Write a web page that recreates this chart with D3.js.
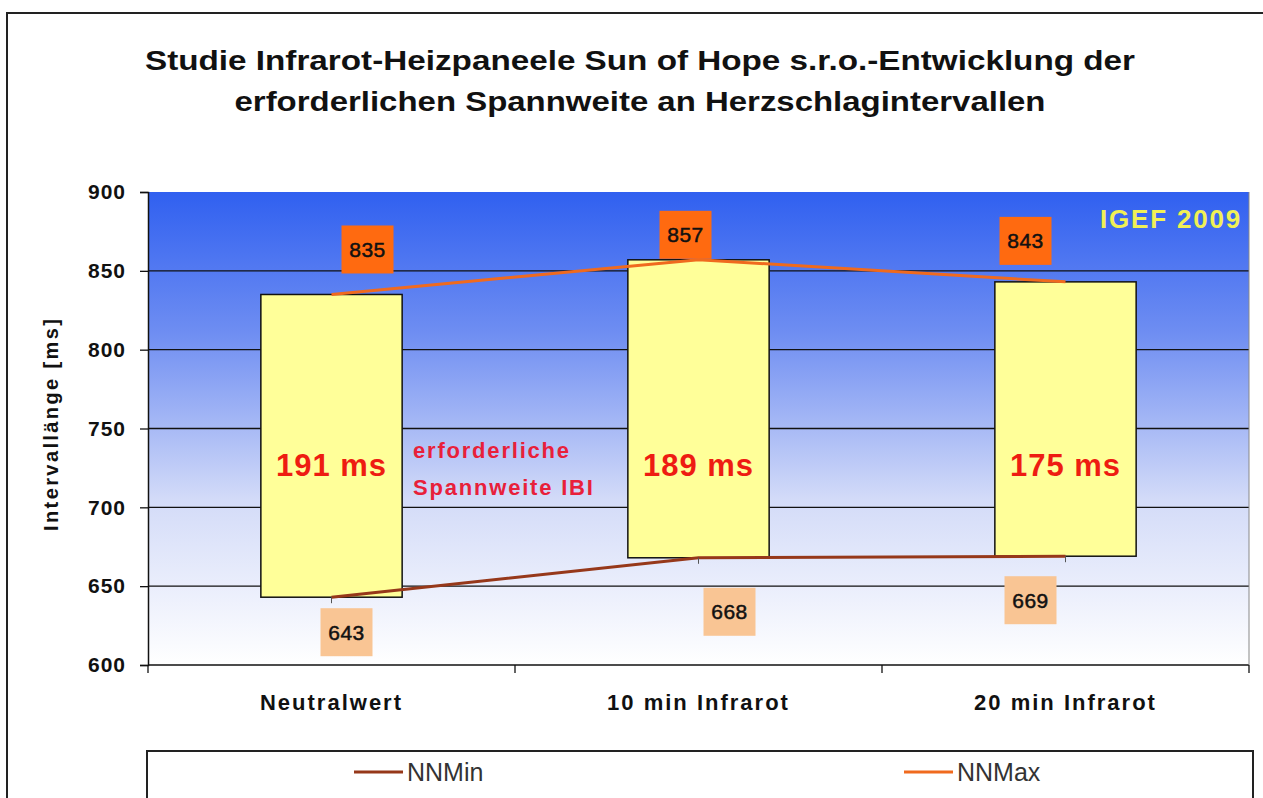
<!DOCTYPE html>
<html>
<head>
<meta charset="utf-8">
<script src="https://cdn.jsdelivr.net/npm/d3@7"></script>
<style>
  body { margin: 0; background: #fff; }
  svg text { font-family: 'Liberation Sans', Arial, sans-serif; }
</style>
</head>
<body>
<div id="chart"></div>
<script>
// Werte aus dem Diagramm
const categories = ['Neutralwert', '10 min Infrarot', '20 min Infrarot'];
const nnMin = [643, 668, 669];
const nnMax = [835, 857, 843];
const spanLabels = ['191 ms', '189 ms', '175 ms'];
const yTicks = [600, 650, 700, 750, 800, 850, 900];
const titleLines = [
  'Studie Infrarot-Heizpaneele Sun of Hope s.r.o.-Entwicklung der',
  'erforderlichen Spannweite an Herzschlagintervallen'
];

// Verschiebung der Beschriftungen (wie im Original von Hand verschoben)
const maxLabelNudge = [[36, -45], [-13, -25], [-40, -41]];
const minLabelNudge = [[15, 35], [31, 54], [-35, 44]];

const W = 1263, H = 798;
const plot = { left: 148, right: 1249, top: 192, bottom: 665 };

const svg = d3.select('#chart')
  .append('svg')
  .attr('width', W)
  .attr('height', H);

// Rahmen
svg.append('rect')
  .attr('x', 7).attr('y', 13)
  .attr('width', 1280).attr('height', 820)
  .attr('fill', '#fff')
  .attr('stroke', '#222')
  .attr('stroke-width', 2);

// Titel
svg.selectAll('.title')
  .data(titleLines)
  .join('text')
  .attr('class', 'title')
  .attr('x', 640)
  .attr('y', (d, i) => 70 + i * 41)
  .attr('text-anchor', 'middle')
  .attr('font-size', 27)
  .attr('font-weight', 'bold')
  .attr('fill', '#111')
  .attr('textLength', (d, i) => (i === 0 ? 990 : 811))
  .attr('lengthAdjust', 'spacingAndGlyphs')
  .text((d) => d);

const x = d3.scaleBand()
  .domain(categories)
  .range([plot.left, plot.right]);
const y = d3.scaleLinear()
  .domain([600, 900])
  .range([plot.bottom, plot.top]);
const cx = (i) => x(categories[i]) + x.bandwidth() / 2;
const barW = x.bandwidth() * 0.385;

// Hintergrund-Verlauf
const defs = svg.append('defs');
const grad = defs.append('linearGradient')
  .attr('id', 'bg')
  .attr('x1', 0).attr('y1', 0).attr('x2', 0).attr('y2', 1);
grad.append('stop').attr('offset', '0%').attr('stop-color', '#3060f0');
grad.append('stop').attr('offset', '30%').attr('stop-color', '#6f8ef2');
grad.append('stop').attr('offset', '65%').attr('stop-color', '#d3dbf8');
grad.append('stop').attr('offset', '100%').attr('stop-color', '#ffffff');

svg.append('rect')
  .attr('x', plot.left).attr('y', plot.top)
  .attr('width', plot.right - plot.left)
  .attr('height', plot.bottom - plot.top)
  .attr('fill', 'url(#bg)');

// Gitterlinien
svg.selectAll('.grid')
  .data(yTicks.filter((t) => t > 600 && t < 900))
  .join('line')
  .attr('class', 'grid')
  .attr('x1', plot.left).attr('x2', plot.right)
  .attr('y1', (d) => y(d)).attr('y2', (d) => y(d))
  .attr('stroke', '#111')
  .attr('stroke-width', 1.3);

// Y-Achse
const yAxis = svg.append('g')
  .attr('transform', `translate(${plot.left},0)`)
  .call(d3.axisLeft(y).tickValues(yTicks).tickSize(8).tickPadding(14));
yAxis.select('.domain').attr('stroke', '#111').attr('stroke-width', 1.5);
yAxis.selectAll('.tick line').attr('stroke', '#111').attr('stroke-width', 1.3);
yAxis.selectAll('.tick text')
  .attr('font-size', 21)
  .attr('font-weight', 'bold')
  .attr('fill', '#111')
  .attr('letter-spacing', 1)
  .attr('font-family', "'Liberation Sans', Arial, sans-serif");

// X-Achse
svg.append('line')
  .attr('x1', plot.left).attr('x2', plot.right)
  .attr('y1', plot.bottom).attr('y2', plot.bottom)
  .attr('stroke', '#111').attr('stroke-width', 1.5);
svg.selectAll('.xtick')
  .data(categories.map((c) => x(c)).concat([plot.right]))
  .join('line')
  .attr('class', 'xtick')
  .attr('x1', (d) => d).attr('x2', (d) => d)
  .attr('y1', plot.bottom).attr('y2', plot.bottom + 8)
  .attr('stroke', '#111').attr('stroke-width', 1.3);
svg.append('line')
  .attr('x1', plot.right).attr('x2', plot.right)
  .attr('y1', plot.top).attr('y2', plot.bottom)
  .attr('stroke', '#888').attr('stroke-width', 1);

svg.selectAll('.xlabel')
  .data(categories)
  .join('text')
  .attr('class', 'xlabel')
  .attr('x', (d, i) => cx(i))
  .attr('y', 710)
  .attr('text-anchor', 'middle')
  .attr('font-size', 22)
  .attr('font-weight', 'bold')
  .attr('letter-spacing', 2)
  .attr('fill', '#111')
  .text((d) => d);

// Achsentitel
svg.append('text')
  .attr('transform', 'translate(58,425) rotate(-90)')
  .attr('text-anchor', 'middle')
  .attr('font-size', 20)
  .attr('font-weight', 'bold')
  .attr('fill', '#111')
  .attr('textLength', 212)
  .attr('lengthAdjust', 'spacing')
  .text('Intervallänge [ms]');

// Balken der Spannweite
svg.selectAll('.bar')
  .data(categories)
  .join('rect')
  .attr('class', 'bar')
  .attr('x', (d, i) => cx(i) - barW / 2)
  .attr('y', (d, i) => y(nnMax[i]))
  .attr('width', barW)
  .attr('height', (d, i) => y(nnMin[i]) - y(nnMax[i]))
  .attr('fill', '#ffff99')
  .attr('stroke', '#111')
  .attr('stroke-width', 1.5);

// Linien
const line = d3.line()
  .x((d, i) => cx(i))
  .y((d) => y(d));
svg.append('path')
  .datum(nnMax)
  .attr('d', line)
  .attr('fill', 'none')
  .attr('stroke', '#f06a1e')
  .attr('stroke-width', 3);
svg.append('path')
  .datum(nnMin)
  .attr('d', line)
  .attr('fill', 'none')
  .attr('stroke', '#96381a')
  .attr('stroke-width', 3);
svg.selectAll('.minmark')
  .data(nnMin)
  .join('line')
  .attr('class', 'minmark')
  .attr('x1', (d, i) => cx(i)).attr('x2', (d, i) => cx(i))
  .attr('y1', (d) => y(d)).attr('y2', (d) => y(d) + 6)
  .attr('stroke', '#555').attr('stroke-width', 1);

// Datenbeschriftungen
function addLabels(values, nudges, fill, cls) {
  const g = svg.selectAll('.' + cls)
    .data(values)
    .join('g')
    .attr('class', cls)
    .attr('transform', (d, i) => `translate(${cx(i) + nudges[i][0]},${y(d) + nudges[i][1]})`);
  g.append('rect')
    .attr('x', -26).attr('y', -24)
    .attr('width', 52).attr('height', 48)
    .attr('fill', fill);
  g.append('text')
    .attr('text-anchor', 'middle')
    .attr('dy', '0.36em')
    .attr('font-size', 21)
    .attr('letter-spacing', 0.5)
    .attr('fill', '#111')
    .attr('stroke', '#111')
    .attr('stroke-width', 0.5)
    .text((d) => d);
}
addLabels(nnMax, maxLabelNudge, '#ff6a10', 'maxlab');
addLabels(nnMin, minLabelNudge, '#f9c594', 'minlab');

// Spannweite in den Balken
svg.selectAll('.span')
  .data(spanLabels)
  .join('text')
  .attr('class', 'span')
  .attr('x', (d, i) => cx(i))
  .attr('y', 476)
  .attr('text-anchor', 'middle')
  .attr('font-size', 31)
  .attr('font-weight', 'bold')
  .attr('letter-spacing', 1)
  .attr('fill', '#ee1c12')
  .text((d) => d);

const noteLines = ['erforderliche', 'Spannweite IBI'];
svg.selectAll('.note')
  .data(noteLines)
  .join('text')
  .attr('class', 'note')
  .attr('x', 413)
  .attr('y', (d, i) => 458 + i * 37)
  .attr('font-size', 22)
  .attr('font-weight', 'bold')
  .attr('letter-spacing', 1.8)
  .attr('fill', '#e8203a')
  .text((d) => d);

svg.append('text')
  .attr('x', 1242).attr('y', 228)
  .attr('text-anchor', 'end')
  .attr('font-size', 26).attr('font-weight', 'bold')
  .attr('letter-spacing', 1.8)
  .attr('fill', '#f0f055')
  .text('IGEF 2009');

// Legende
svg.append('rect')
  .attr('x', 147).attr('y', 751)
  .attr('width', 1106).attr('height', 60)
  .attr('fill', '#fff')
  .attr('stroke', '#222')
  .attr('stroke-width', 2);
const legendItems = [
  { name: 'NNMin', color: '#96381a', x: 354 },
  { name: 'NNMax', color: '#f06a1e', x: 904 }
];
const lg = svg.selectAll('.leg')
  .data(legendItems)
  .join('g')
  .attr('class', 'leg')
  .attr('transform', (d) => `translate(${d.x},772)`);
lg.append('line')
  .attr('x1', 0).attr('x2', 49)
  .attr('stroke', (d) => d.color)
  .attr('stroke-width', 3);
lg.append('text')
  .attr('x', 53)
  .attr('dy', '0.36em')
  .attr('font-size', 25)
  .attr('fill', '#333')
  .text((d) => d.name);
</script>
</body>
</html>
